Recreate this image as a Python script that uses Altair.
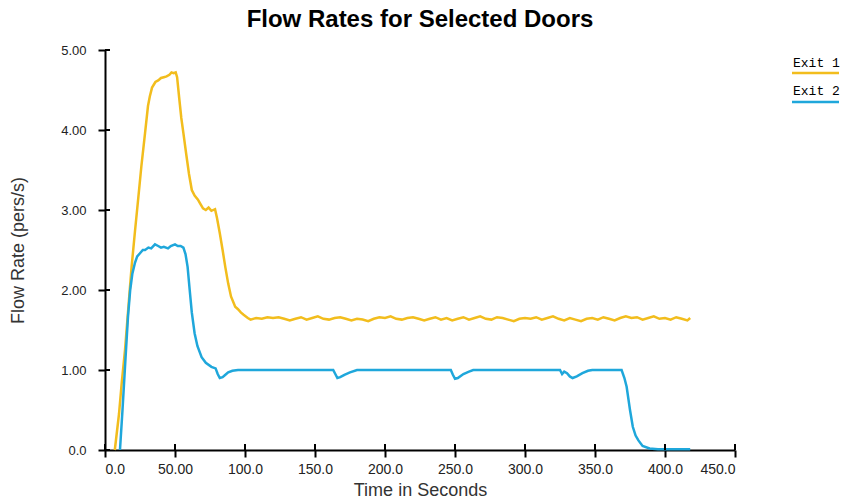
import altair as alt
import pandas as pd

# ---- data ----
exit1_t = [7, 10, 12, 14.3, 17, 19, 21.5, 23.6, 26, 28.6, 30.7, 32, 33.6, 36, 38, 40, 42, 44, 46, 47.5, 49, 50.5,
           51.5, 53, 54.5, 56, 58, 60, 62, 64, 66.4, 68, 70, 72, 74, 76, 78.6, 80, 82, 84, 86, 88, 90, 93, 95, 97, 99, 102,
           104, 108, 112, 116, 120, 124, 128, 132, 136, 140, 144, 148, 152, 156, 160, 164, 168, 172, 176, 180,
           184, 188, 192, 196, 200, 204, 208, 212, 216, 220, 224, 228, 232, 236, 240, 244, 248, 252, 256, 260,
           264, 268, 272, 276, 280, 284, 288, 292, 296, 300, 304, 308, 312, 316, 320, 324, 328, 332, 336, 340,
           344, 348, 352, 356, 360, 364, 368, 372, 376, 380, 384, 388, 392, 396, 400, 404, 408, 412, 416, 418]
exit1_v = [0.0, 0.45, 0.85, 1.25, 1.85, 2.29, 2.75, 3.12, 3.55, 3.96, 4.3, 4.42, 4.53, 4.6, 4.62, 4.65, 4.66, 4.67, 4.69, 4.72, 4.71, 4.72,
           4.66, 4.4, 4.15, 3.96, 3.7, 3.45, 3.25, 3.18, 3.13, 3.08, 3.02, 3.0, 3.03, 2.99, 3.01, 2.9, 2.71, 2.5, 2.28, 2.08, 1.92, 1.79, 1.76, 1.72, 1.69, 1.65,
           1.63, 1.65, 1.64, 1.66, 1.65, 1.66, 1.64, 1.62, 1.64, 1.66, 1.63, 1.65, 1.67, 1.64, 1.63, 1.65, 1.66, 1.64, 1.62, 1.64,
           1.63, 1.61, 1.64, 1.66, 1.65, 1.67, 1.64, 1.63, 1.65, 1.66, 1.64, 1.62, 1.64, 1.66, 1.63, 1.65, 1.62, 1.64, 1.66, 1.63,
           1.65, 1.67, 1.64, 1.63, 1.66, 1.65, 1.63, 1.61, 1.64, 1.65, 1.64, 1.66, 1.63, 1.65, 1.67, 1.64, 1.62, 1.65, 1.63, 1.61,
           1.64, 1.65, 1.63, 1.66, 1.64, 1.62, 1.65, 1.67, 1.65, 1.66, 1.63, 1.65, 1.67, 1.64, 1.65, 1.63, 1.66, 1.64, 1.62, 1.65]

exit2_t = [10.7, 12.5, 14.5, 16.4, 18, 19.5, 21.4, 23, 25, 27, 28.6, 31, 33, 35.7, 38, 40, 42, 45, 47, 50, 52, 54, 56,
           57.5, 59, 60.5, 62, 64, 66, 69, 72, 76, 79, 80.5, 82, 84, 86, 88, 91, 95,
           163, 164.5, 166, 168, 171, 175, 180,
           247, 248.5, 250, 252, 256, 260, 263,
           325, 326.5, 328, 330, 332, 334, 337, 341, 345, 348,
           369, 371, 372.6, 375, 377, 379, 381, 384, 389, 395, 418]
exit2_v = [0.0, 0.5, 1.1, 1.66, 2.0, 2.2, 2.34, 2.42, 2.46, 2.5, 2.5, 2.53, 2.52, 2.57, 2.55, 2.53, 2.54, 2.52, 2.55, 2.57, 2.55, 2.55, 2.53,
           2.45, 2.29, 2.0, 1.72, 1.46, 1.3, 1.16, 1.09, 1.04, 1.02, 0.95, 0.9, 0.91, 0.94, 0.97, 0.99, 1.0,
           1.0, 0.95, 0.9, 0.91, 0.94, 0.97, 1.0,
           1.0, 0.94, 0.89, 0.9, 0.95, 0.98, 1.0,
           1.0, 0.95, 0.98, 0.96, 0.92, 0.9, 0.92, 0.96, 0.99, 1.0,
           1.0, 0.9, 0.79, 0.5, 0.29, 0.18, 0.12, 0.05, 0.02, 0.01, 0.01]

series_names = ["Exit 1", "Exit 2"]
series_colors = ["#F2BD1D", "#1FA7DB"]
x_ticks = [0, 50, 100, 150, 200, 250, 300, 350, 400, 450]
y_ticks = [0, 1, 2, 3, 4, 5]

df = pd.concat([
    pd.DataFrame({"t": exit1_t, "v": exit1_v, "s": series_names[0]}),
    pd.DataFrame({"t": exit2_t, "v": exit2_v, "s": series_names[1]}),
])

W, H = 630, 400
xs = alt.Scale(domain=[0, 450], nice=False, zero=False)
ys = alt.Scale(domain=[0, 5], nice=False)

label_font = "Liberation Sans"

lines = alt.Chart(df).mark_line(strokeWidth=2.5, clip=False).encode(
    x=alt.X("t:Q", scale=xs, axis=alt.Axis(
        values=x_ticks, title="Time in Seconds",
        labelExpr="datum.value == 0 ? '0.0' : (datum.value == 50 ? '50.00' : format(datum.value, '.1f'))",
        domainColor="black", domainWidth=2, tickColor="black", tickWidth=2, tickSize=7,
        labelPadding=5, labelFont=label_font, labelFontSize=14, labelColor="#222",
        titleFont=label_font, titleFontSize=18, titleColor="#333", titleFontWeight="normal",
        titleY=40, titleBaseline="middle", grid=False)),
    y=alt.Y("v:Q", scale=ys, axis=alt.Axis(
        values=y_ticks, title="Flow Rate (pers/s)",
        labelExpr="datum.value == 0 ? '0.0' : format(datum.value, '.2f')",
        domainColor="black", domainWidth=2, tickColor="black", tickWidth=2, tickSize=7,
        labelPadding=12, labelFont=label_font, labelFontSize=13, labelColor="#222",
        titleFont=label_font, titleFontSize=18, titleColor="#333", titleFontWeight="normal",
        titleX=-87, titleY=200, titleAngle=-90, titleAlign="center", titleBaseline="middle", grid=False)),
    color=alt.Color("s:N", scale=alt.Scale(domain=series_names, range=series_colors), legend=None),
)

# inner halves of the tick marks (ticks cross the axis line)
xt = alt.Chart(pd.DataFrame({"t": x_ticks})).mark_rule(color="black", strokeWidth=2).encode(
    x=alt.X("t:Q", scale=xs), y=alt.value(H), y2=alt.value(H - 6))
yt = alt.Chart(pd.DataFrame({"v": y_ticks})).mark_rule(color="black", strokeWidth=2).encode(
    y=alt.Y("v:Q", scale=ys), x=alt.value(0), x2=alt.value(5))

# custom legend (label above a coloured line)
leg = pd.DataFrame({"s": series_names, "ty": [17, 45], "ly": [23, 52]})
leg_text = alt.Chart(leg).mark_text(align="left", baseline="alphabetic", font="Liberation Mono",
                                    fontSize=13, color="black").encode(
    x=alt.value(688), y=alt.Y("ty:Q", scale=None), text="s:N")
leg_line = alt.Chart(leg).mark_rule(strokeWidth=2.5).encode(
    x=alt.value(687), x2=alt.value(734), y=alt.Y("ly:Q", scale=None),
    color=alt.Color("s:N", scale=alt.Scale(domain=series_names, range=series_colors), legend=None))

chart = alt.layer(lines, xt, yt, leg_text, leg_line).properties(
    width=W, height=H,
    title=alt.TitleParams("Flow Rates for Selected Doors", font=label_font, fontSize=24,
                          fontWeight="bold", color="black", anchor="middle", offset=12),
    autosize=alt.AutoSizeParams(type="none"),
    padding={"left": 105, "top": 50, "right": 111, "bottom": 51},
).configure(background="white").configure_view(stroke=None, strokeWidth=0)

chart.save("out.html", embed_options={"renderer": "svg", "actions": False})
